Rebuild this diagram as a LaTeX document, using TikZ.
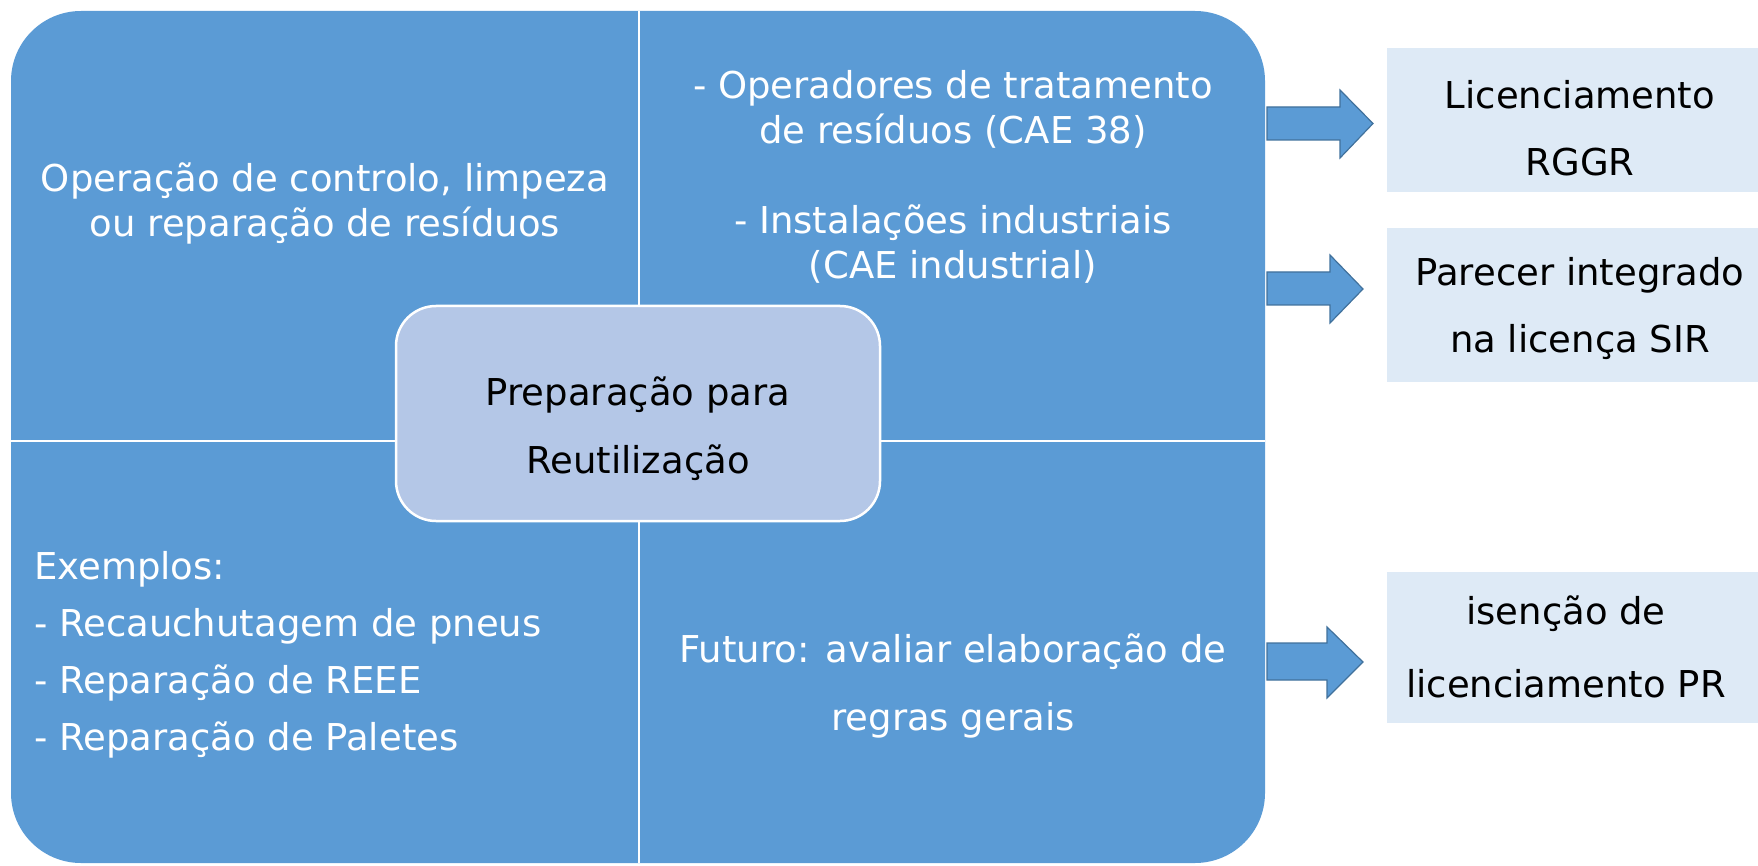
\documentclass[tikz,border=0pt]{standalone}
\usepackage{fontspec}
\setmainfont{DejaVu Sans}
\definecolor{mainblue}{HTML}{5B9BD5}
\definecolor{centerblue}{HTML}{B4C7E7}
\definecolor{paleblue}{HTML}{DEEAF6}
\definecolor{arrowedge}{HTML}{41719C}
\tikzset{
  quadtext/.style={text=white, inner sep=0pt, align=center},
  boxtext/.style={text=black, inner sep=0pt, align=center},
  divider/.style={draw=white, line width=2.5pt},
  blockarrow/.style={fill=mainblue, draw=arrowedge, line width=1.2pt, line join=miter},
  resultbox/.style={fill=paleblue, draw=none, inner sep=0pt},
}
\begin{document}
\begin{tikzpicture}[x=1pt,y=-1pt]
\useasboundingbox (0,0) rectangle (1758,866);
% main rounded panel
\fill[mainblue, rounded corners=70pt] (11,11) rectangle (1265,863);
\draw[divider] (639,11) -- (639,863);
\draw[divider] (11,441) -- (1265,441);
% quadrant texts
\node[quadtext, font=\fontsize{37}{45}\selectfont] (tl) at (325,203)
  {Operação de controlo, limpeza\\ou reparação de resíduos};
\node[quadtext, font=\fontsize{37}{45}\selectfont] (tr) at (953,177)
  {- Operadores de tratamento\\de resíduos (CAE 38)\\[45pt]- Instalações industriais\\(CAE industrial)};
\node[quadtext, align=left, anchor=west, font=\fontsize{37}{57}\selectfont] (bl) at (34,655)
  {Exemplos:\\- Recauchutagem de pneus\\- Reparação de REEE\\- Reparação de Paletes};
\node[quadtext, font=\fontsize{37}{68}\selectfont] (br) at (953,686)
  {Futuro: avaliar elaboração de\\regras gerais};
% centre box
\draw[fill=centerblue, draw=white, line width=2.5pt, rounded corners=40pt] (396,306) rectangle (880,521);
\node[boxtext, font=\fontsize{37}{68}\selectfont] (prep) at (638,429)
  {Preparação para\\Reutilização};
% result boxes
\node[resultbox, anchor=north west, minimum width=380pt, minimum height=144pt] (r1) at (1387,48) {};
\node[resultbox, anchor=north west, minimum width=380pt, minimum height=154pt] (r2) at (1387,228) {};
\node[resultbox, anchor=north west, minimum width=380pt, minimum height=151pt] (r3) at (1387,572) {};
\node[boxtext, font=\fontsize{37}{67}\selectfont] (t1) at (1580,128) {Licenciamento\\RGGR};
\node[boxtext, font=\fontsize{37}{67}\selectfont] (t2) at (1580,309) {Parecer integrado\\na licença SIR};
\node[boxtext, font=\fontsize{37}{73}\selectfont] (t3) at (1566,647) {isenção de\\licenciamento PR};
% block arrows
\draw[blockarrow] (1267,107) -- (1340,107) -- (1340,90) -- (1373,123.5) -- (1340,158) -- (1340,140) -- (1267,140) -- cycle;
\draw[blockarrow] (1267,272) -- (1330,272) -- (1330,255) -- (1363,289) -- (1330,323) -- (1330,305) -- (1267,305) -- cycle;
\draw[blockarrow] (1267,643) -- (1327,643) -- (1327,627) -- (1363,662) -- (1327,698) -- (1327,680) -- (1267,680) -- cycle;
\end{tikzpicture}
\end{document}
